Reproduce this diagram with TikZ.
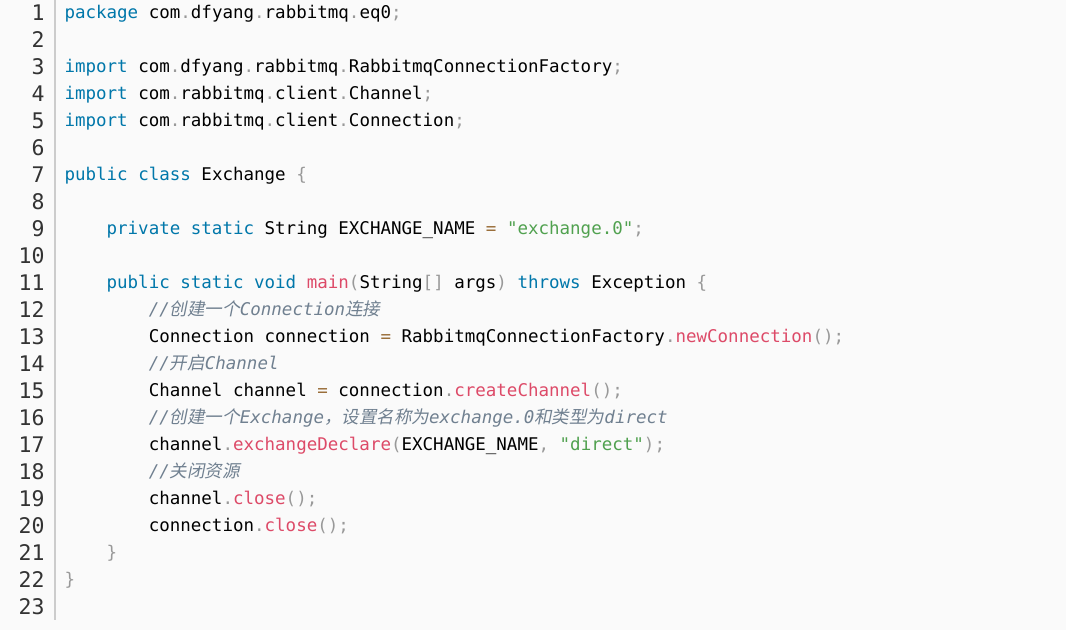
\documentclass[tikz,border=0pt]{standalone}
\usepackage{fontspec}
\setmonofont{DejaVu Sans Mono}
\newfontfamily\zhfont[FakeSlant=0.2]{Noto Sans CJK SC}

\definecolor{codebg}{HTML}{FAFAFA}
\definecolor{gutterline}{HTML}{CCCCCC}
\definecolor{numgray}{HTML}{333333}
\definecolor{keyword}{HTML}{0077AA}
\definecolor{function}{HTML}{DD4A68}
\definecolor{string}{HTML}{50A14F}
\definecolor{punct}{HTML}{999999}
\definecolor{operator}{HTML}{9A6E3A}
\definecolor{comment}{HTML}{708090}

% token colours
\newcommand\kw[1]{\textcolor{keyword}{#1}}
\newcommand\fn[1]{\textcolor{function}{#1}}
\newcommand\str[1]{\textcolor{string}{#1}}
\newcommand\pun[1]{\textcolor{punct}{#1}}
\newcommand\op[1]{\textcolor{operator}{#1}}
\newcommand\zh[1]{{\zhfont #1}}
\newcommand\cm[1]{\textcolor{comment}{\itshape #1}}

\def\colw{10.535}
\def\rowh{27}

\begin{document}
\begin{tikzpicture}[x=1pt,y=1pt]
    \tikzstyle{code line}=[anchor=base west,inner sep=0pt,outer sep=0pt,
        font=\ttfamily\fontsize{17.5pt}{17.5pt}\selectfont]
    \tikzstyle{line number}=[anchor=base east,inner sep=0pt,outer sep=0pt,text=numgray,
        font=\ttfamily\fontsize{21.5pt}{21.5pt}\selectfont]
    \tikzstyle{gutter}=[draw=gutterline,line width=1.5pt]

    \fill[codebg] (0,0) rectangle (1066,-630);
    \useasboundingbox (0,0) rectangle (1066,-630);

    % Draw the line numbers
    \foreach \n in {1,...,23}
        \node[line number] (N-\n) at (44.5,{-20.5-\rowh*(\n-1)}) {\n};

    % Gutter rule
    \coordinate (G-top) at (55,0);
    \coordinate (G-bottom) at (55,-620);
    \draw[gutter] (G-top) -- (G-bottom);

    % Draw the code lines (x = indent in columns)
    \node[code line] (L-1) at ({64.5+0*\colw},{-18.5-\rowh*0})
        {\kw{package} com\pun{.}dfyang\pun{.}rabbitmq\pun{.}eq0\pun{;}};
    \node[code line] (L-3) at ({64.5+0*\colw},{-18.5-\rowh*2})
        {\kw{import} com\pun{.}dfyang\pun{.}rabbitmq\pun{.}RabbitmqConnectionFactory\pun{;}};
    \node[code line] (L-4) at ({64.5+0*\colw},{-18.5-\rowh*3})
        {\kw{import} com\pun{.}rabbitmq\pun{.}client\pun{.}Channel\pun{;}};
    \node[code line] (L-5) at ({64.5+0*\colw},{-18.5-\rowh*4})
        {\kw{import} com\pun{.}rabbitmq\pun{.}client\pun{.}Connection\pun{;}};
    \node[code line] (L-7) at ({64.5+0*\colw},{-18.5-\rowh*6})
        {\kw{public} \kw{class} Exchange \pun{\{}};
    \node[code line] (L-9) at ({64.5+4*\colw},{-18.5-\rowh*8})
        {\kw{private} \kw{static} String EXCHANGE\_NAME \op{=} \str{"exchange.0"}\pun{;}};
    \node[code line] (L-11) at ({64.5+4*\colw},{-18.5-\rowh*10})
        {\kw{public} \kw{static} \kw{void} \fn{main}\pun{(}String\pun{[]} args\pun{)} \kw{throws} Exception \pun{\{}};
    \node[code line] (L-12) at ({64.5+8*\colw},{-18.5-\rowh*11})
        {\cm{//\zh{创建一个}Connection\zh{连接}}};
    \node[code line] (L-13) at ({64.5+8*\colw},{-18.5-\rowh*12})
        {Connection connection \op{=} RabbitmqConnectionFactory\pun{.}\fn{newConnection}\pun{();}};
    \node[code line] (L-14) at ({64.5+8*\colw},{-18.5-\rowh*13})
        {\cm{//\zh{开启}Channel}};
    \node[code line] (L-15) at ({64.5+8*\colw},{-18.5-\rowh*14})
        {Channel channel \op{=} connection\pun{.}\fn{createChannel}\pun{();}};
    \node[code line] (L-16) at ({64.5+8*\colw},{-18.5-\rowh*15})
        {\cm{//\zh{创建一个}Exchange\zh{，设置名称为}exchange.0\zh{和类型为}direct}};
    \node[code line] (L-17) at ({64.5+8*\colw},{-18.5-\rowh*16})
        {channel\pun{.}\fn{exchangeDeclare}\pun{(}EXCHANGE\_NAME\pun{,} \str{"direct"}\pun{);}};
    \node[code line] (L-18) at ({64.5+8*\colw},{-18.5-\rowh*17})
        {\cm{//\zh{关闭资源}}};
    \node[code line] (L-19) at ({64.5+8*\colw},{-18.5-\rowh*18})
        {channel\pun{.}\fn{close}\pun{();}};
    \node[code line] (L-20) at ({64.5+8*\colw},{-18.5-\rowh*19})
        {connection\pun{.}\fn{close}\pun{();}};
    \node[code line] (L-21) at ({64.5+4*\colw},{-18.5-\rowh*20})
        {\pun{\}}};
    \node[code line] (L-22) at ({64.5+0*\colw},{-18.5-\rowh*21})
        {\pun{\}}};
\end{tikzpicture}
\end{document}
